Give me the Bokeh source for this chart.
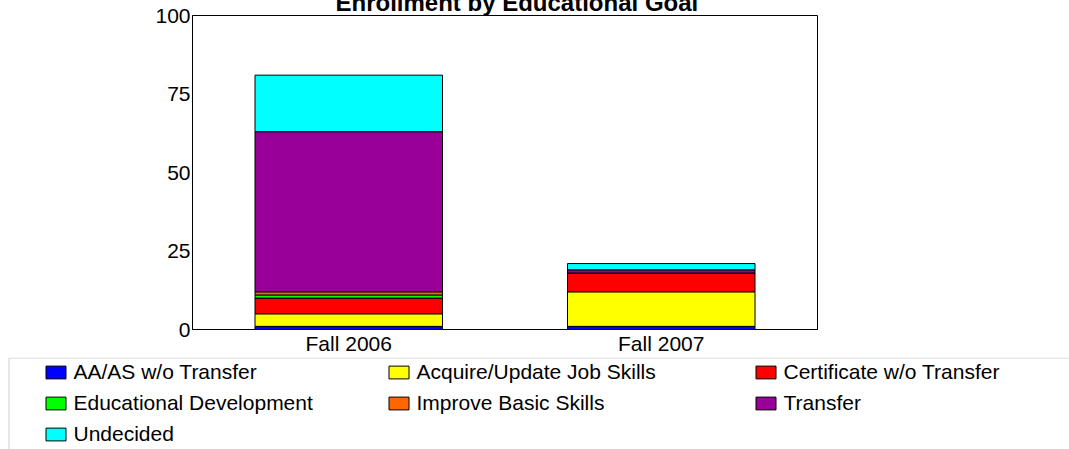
from bokeh.plotting import figure
from bokeh.layouts import column
from bokeh.models import (ColumnDataSource, FactorRange, Range1d, FixedTicker,
                          Legend, LegendItem, BoxAnnotation)
from bokeh.embed import file_html
from bokeh.resources import INLINE

periods = ["Fall 2006", "Fall 2007"]
goal_labels = ["AA/AS w/o Transfer", "Acquire/Update Job Skills", "Certificate w/o Transfer",
               "Educational Development", "Improve Basic Skills", "Transfer", "Undecided"]
aa_as = [1, 1]
acquire = [4, 11]
certificate = [5, 6]
educational = [1, 0]
basic = [1, 0]
transfer = [51, 1]
undecided = [18, 2]
y_ticks = [0, 25, 50, 75, 100]

keys = ["aa_as", "acquire", "certificate", "educational", "basic", "transfer", "undecided"]
colors = ["#0000FF", "#FFFF00", "#FF0000", "#00FF00", "#FF6600", "#990099", "#00FFFF"]

src = ColumnDataSource(dict(period=periods, aa_as=aa_as, acquire=acquire,
                            certificate=certificate, educational=educational,
                            basic=basic, transfer=transfer, undecided=undecided))

FONT = "Liberation Sans"
W = 1069
SHIFT = 14  # top of the title is cut off, as in the reference

# ---------------- chart ----------------
p = figure(width=W, height=371, x_range=FactorRange(factors=periods),
           y_range=Range1d(0, 100), output_backend="svg", toolbar_location=None,
           min_border_left=192, min_border_right=252, min_border_top=28,
           min_border_bottom=28, title="Enrollment by Educational Goal")
p.margin = (-SHIFT, 0, 0, 0)
p.background_fill_color = "white"
p.border_fill_color = "white"
p.outline_line_color = "black"
p.outline_line_width = 1
p.xgrid.grid_line_color = None
p.ygrid.grid_line_color = None

p.title.text_font = FONT
p.title.text_font_size = "24px"
p.title.text_font_style = "bold"
p.title.text_color = "black"
p.title.align = "left"
p.title.offset = 143
p.title.standoff = 0

p.vbar_stack(keys, x="period", width=0.6, fill_color=colors,
             line_color="black", line_width=1, source=src)

p.yaxis.ticker = FixedTicker(ticks=y_ticks)
p.yaxis.major_tick_out = 0
p.yaxis.major_tick_in = 0
p.yaxis.minor_tick_line_color = None
p.yaxis.major_label_standoff = 2
p.xaxis.major_tick_out = 0
p.xaxis.major_tick_in = 0
p.xaxis.major_tick_line_color = None
p.xaxis.minor_tick_line_color = None
p.xaxis.major_label_standoff = 2
for ax in (p.xaxis, p.yaxis):
    ax.axis_line_color = "black"
    ax.major_label_text_font = FONT
    ax.major_label_text_font_size = "21px"
    ax.major_label_text_color = "black"

# ---------------- legend panel ----------------
LH = 92
Y0 = 300
q = figure(width=W, height=LH, x_range=FactorRange(factors=periods),
           y_range=Range1d(Y0, Y0 + LH), output_backend="svg", toolbar_location=None,
           x_axis_location=None, y_axis_location=None,
           min_border_left=0, min_border_right=0, min_border_top=0, min_border_bottom=0)
q.grid.grid_line_color = None
q.outline_line_color = None
q.background_fill_color = "white"
q.border_fill_color = "white"
for fig in (p, q):
    if "frame_align" in fig.properties():
        fig.frame_align = False

# same stacked bars; they lie below this panel's visible range, only the legend shows
rq = q.vbar_stack(keys, x="period", width=0.6, fill_color=colors,
                  line_color="black", line_width=1, source=src)

# legend box (left and top edges visible, the rest runs off the page)
px = 2.0 / W
q.add_layout(BoxAnnotation(left=8.5 * px, right=2.5, top=Y0 + LH - 0.5, bottom=Y0 - 100,
                           fill_color=None, line_color="#666666", line_width=1))

cols = [[0, 3, 6], [1, 4], [2, 5]]
xs = [42.5, 385.5, 752.5]
for col, x in zip(cols, xs):
    n = len(col)
    h = n * 24 + (n - 1) * 7
    lg = Legend(items=[LegendItem(label=goal_labels[i], renderers=[rq[i]]) for i in col],
                location=(x, LH - 3 - h), orientation="vertical", padding=0, spacing=7,
                margin=0, glyph_width=25, glyph_height=16, label_standoff=6,
                label_height=24, label_text_font=FONT, label_text_font_size="21px",
                label_text_color="black", border_line_alpha=0,
                background_fill_alpha=0)
    q.add_layout(lg)

layout = column(p, q, spacing=0)
open("out.html", "w").write(file_html(layout, INLINE))
